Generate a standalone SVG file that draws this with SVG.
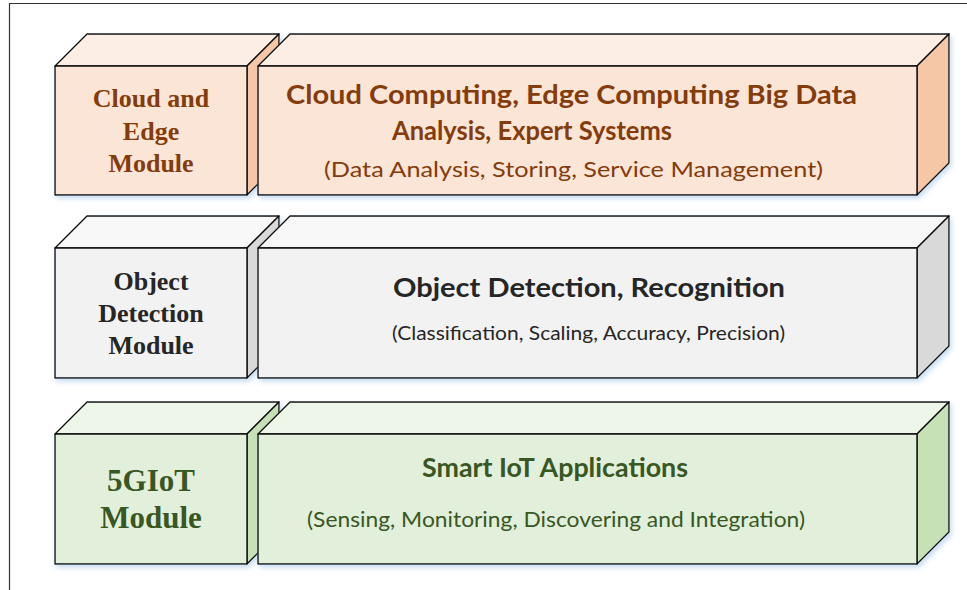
<svg xmlns="http://www.w3.org/2000/svg" width="967" height="590" viewBox="0 0 967 590">
<defs>
<filter id="sh" x="-5%" y="-10%" width="115%" height="130%">
<feDropShadow dx="2" dy="3" stdDeviation="2.5" flood-color="#9DC3E6" flood-opacity="0.55"/>
</filter>
<style>
.box polygon,.box rect{stroke:#111;stroke-width:1.4;stroke-linejoin:round}
.o .f{fill:#FBE5D6}.o .t{fill:#FCEEE4}.o .s{fill:#F6C7A6}
.g .f{fill:#F2F2F2}.g .t{fill:#F8F8F8}.g .s{fill:#D9D9D9}
.n .f{fill:#E2EFDA}.n .t{fill:#EEF5E9}.n .s{fill:#C7E1B6}
.lbl{font-family:"Liberation Serif","Times New Roman",serif;font-weight:bold;text-anchor:middle}
.hd{font-family:Lato,"Open Sans",sans-serif;font-weight:bold}
.sub{font-family:Lato,"Open Sans",sans-serif}
.o text{fill:#843C0C}.g text{fill:#262626}.n text{fill:#385723}
</style>
</defs>
<rect width="967" height="590" fill="#fff"/>
<path d="M9.5,590 V3.5 H967" fill="none" stroke="#333" stroke-width="1.2"/>

<g id="cloud-edge-module" class="box o">
<g filter="url(#sh)">
<polygon class="t" points="55,66 87,34 279,34 247,66"/>
<polygon class="s" points="247,66 279,34 279,163 247,195"/>
<rect class="f" x="55" y="66" width="192" height="129"/>
</g>
<text class="lbl" x="151" y="107" font-size="26">Cloud and</text>
<text class="lbl" x="151" y="140" font-size="26">Edge</text>
<text class="lbl" x="151" y="172" font-size="26">Module</text>
</g>

<g id="cloud-edge-services" class="box o">
<g filter="url(#sh)">
<polygon class="t" points="258,66 290,34 949,34 917,66"/>
<polygon class="s" points="917,66 949,34 949,163 917,195"/>
<rect class="f" x="258" y="66" width="659" height="129"/>
</g>
<text class="hd" x="286" y="104" font-size="27" textLength="571" lengthAdjust="spacingAndGlyphs">Cloud Computing, Edge Computing Big Data</text>
<text class="hd" x="392" y="140" font-size="27" textLength="280" lengthAdjust="spacingAndGlyphs">Analysis, Expert Systems</text>
<text class="sub" x="324" y="177" font-size="22" textLength="499" lengthAdjust="spacingAndGlyphs">(Data Analysis, Storing, Service Management)</text>
</g>

<g id="object-detection-module" class="box g">
<g filter="url(#sh)">
<polygon class="t" points="55,248 87,216 279,216 247,248"/>
<polygon class="s" points="247,248 279,216 279,346 247,378"/>
<rect class="f" x="55" y="248" width="192" height="130"/>
</g>
<text class="lbl" x="151" y="290" font-size="26">Object</text>
<text class="lbl" x="151" y="322" font-size="26">Detection</text>
<text class="lbl" x="151" y="354" font-size="26">Module</text>
</g>

<g id="object-detection-services" class="box g">
<g filter="url(#sh)">
<polygon class="t" points="258,248 290,216 949,216 917,248"/>
<polygon class="s" points="917,248 949,216 949,346 917,378"/>
<rect class="f" x="258" y="248" width="659" height="130"/>
</g>
<text class="hd" x="393" y="297" font-size="27" textLength="392" lengthAdjust="spacingAndGlyphs">Object Detection, Recognition</text>
<text class="sub" x="392" y="340" font-size="19" textLength="393" lengthAdjust="spacingAndGlyphs">(Classification, Scaling, Accuracy, Precision)</text>
</g>

<g id="5giot-module" class="box n">
<g filter="url(#sh)">
<polygon class="t" points="55,434 87,402 279,402 247,434"/>
<polygon class="s" points="247,434 279,402 279,532 247,564"/>
<rect class="f" x="55" y="434" width="192" height="130"/>
</g>
<text class="lbl" x="151" y="491" font-size="31">5GIoT</text>
<text class="lbl" x="151" y="528" font-size="31">Module</text>
</g>

<g id="smart-iot-applications" class="box n">
<g filter="url(#sh)">
<polygon class="t" points="258,434 290,402 949,402 917,434"/>
<polygon class="s" points="917,434 949,402 949,532 917,564"/>
<rect class="f" x="258" y="434" width="659" height="130"/>
</g>
<text class="hd" x="422" y="477" font-size="27" textLength="266" lengthAdjust="spacingAndGlyphs">Smart IoT Applications</text>
<text class="sub" x="307" y="527" font-size="22" textLength="498" lengthAdjust="spacingAndGlyphs">(Sensing, Monitoring, Discovering and Integration)</text>
</g>

<g id="connectors"/>
</svg>
